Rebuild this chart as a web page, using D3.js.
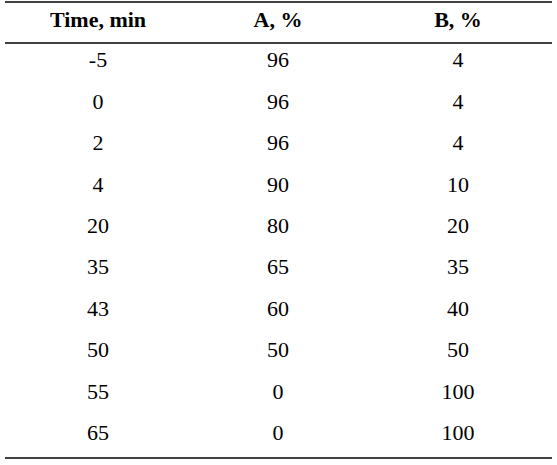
<!DOCTYPE html>
<html><head><meta charset="utf-8">
<script src="https://cdn.jsdelivr.net/npm/d3@7"></script>
<style>body{margin:0;background:#fff}</style></head>
<body><svg id="c" width="557" height="465"></svg>
<script>
const headers = ["Time, min", "A, %", "B, %"];
const times = ["-5","0","2","4","20","35","43","50","55","65"];
const seriesA = [96,96,96,90,80,65,60,50,0,0];
const seriesB = [4,4,4,10,20,35,40,50,100,100];

const svg = d3.select("#c");
const font = "'Liberation Serif','Times New Roman',serif";
const x = d3.scalePoint().domain(headers).range([98, 458]);
const y = d3.scaleBand().domain(d3.range(times.length)).range([39, 453]);

svg.append("g").selectAll("text").data(headers).join("text")
  .attr("x", d => x(d)).attr("y", 19).attr("dy", "0.35em")
  .attr("text-anchor", "middle").attr("font-family", font)
  .attr("font-size", 22).attr("font-weight", "bold").text(d => d);

[2, 43, 458].forEach(yy => svg.append("line").attr("x1", 5).attr("x2", 552)
  .attr("y1", yy).attr("y2", yy).attr("stroke", "#000").attr("stroke-width", 1.3));

const rows = times.map((t, i) => [t, seriesA[i], seriesB[i]]);
const g = svg.append("g").selectAll("g").data(rows).join("g")
  .attr("transform", (d, i) => `translate(0,${y(i) + y.bandwidth() / 2})`);
g.selectAll("text").data(d => d.map((v, j) => ({v, k: headers[j]}))).join("text")
  .attr("x", d => x(d.k)).attr("dy", "0.35em").attr("text-anchor", "middle")
  .attr("font-family", font).attr("font-size", 22).text(d => d.v);
</script></body></html>
